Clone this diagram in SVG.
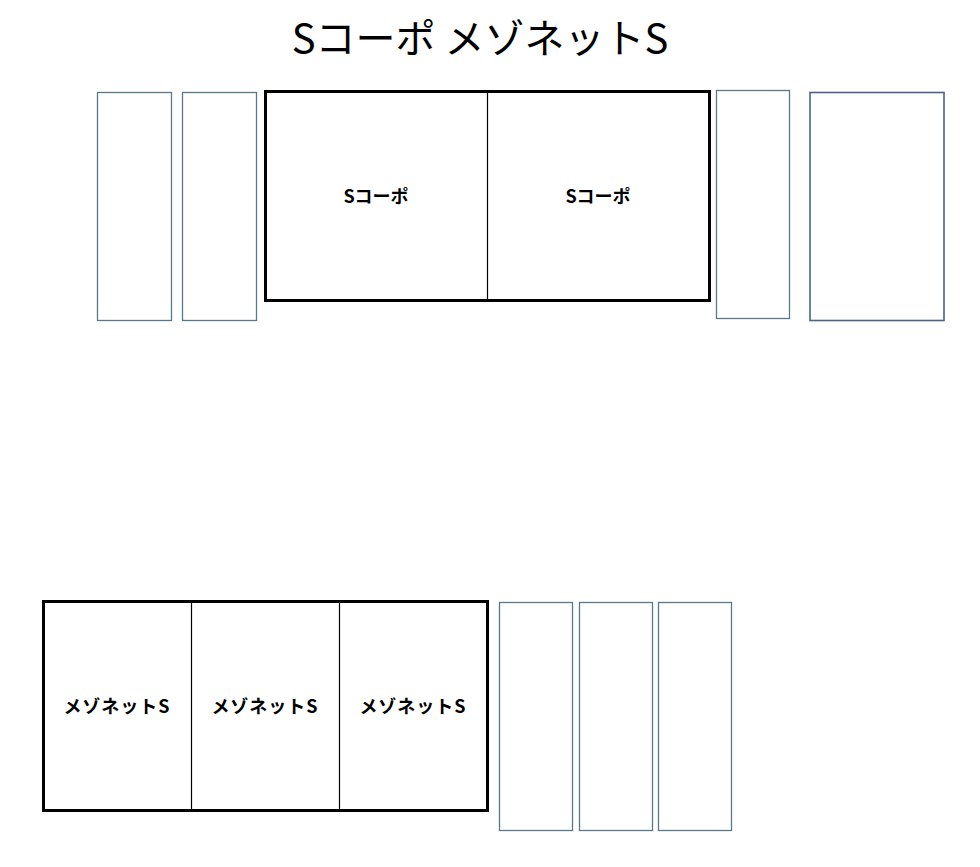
<svg xmlns="http://www.w3.org/2000/svg" width="980" height="867" viewBox="0 0 980 867">
<style>
.bg{fill:#fff}
.side{fill:#fff;stroke:#56788a;stroke-width:1.3}
.side2{fill:#fff;stroke:#4a6385;stroke-width:1.6}
.main{fill:#fff;stroke:#000;stroke-width:3}
.div{stroke:#000;stroke-width:1.2}
.title{font-family:"Noto Sans CJK JP","Noto Sans",sans-serif;font-size:40px;fill:#000;text-anchor:middle}
.lbl{font-family:"Noto Sans CJK JP","Noto Sans",sans-serif;font-size:18px;font-weight:bold;fill:#000;text-anchor:middle}
</style>
<rect class="bg" x="0" y="0" width="980" height="867"/>
<text class="title" x="480" y="53">Sコーポ メゾネットS</text>
<g id="side-top-1"><rect class="side" x="97.5" y="92.5" width="74" height="228"/></g>
<g id="side-top-2"><rect class="side" x="182.5" y="92.5" width="74" height="228"/></g>
<g id="s-corp">
<rect class="main" x="265.5" y="91.5" width="444" height="209"/>
<line class="div" x1="487.5" y1="91.5" x2="487.5" y2="300.5"/>
<text class="lbl" x="376" y="203">Sコーポ</text>
<text class="lbl" x="598" y="203">Sコーポ</text>
</g>
<g id="side-top-3"><rect class="side" x="716.5" y="90.5" width="73" height="228"/></g>
<g id="side-top-4"><rect class="side2" x="810" y="92.5" width="134" height="228"/></g>
<g id="maisonette">
<rect class="main" x="43.5" y="601.5" width="444" height="209"/>
<line class="div" x1="191.5" y1="601.5" x2="191.5" y2="810.5"/>
<line class="div" x1="339.5" y1="601.5" x2="339.5" y2="810.5"/>
<text class="lbl" x="117" y="713" letter-spacing="1">メゾネットS</text>
<text class="lbl" x="265" y="713" letter-spacing="1">メゾネットS</text>
<text class="lbl" x="413" y="713" letter-spacing="1">メゾネットS</text>
</g>
<g id="side-bot-1"><rect class="side" x="499.5" y="602.5" width="73" height="228"/></g>
<g id="side-bot-2"><rect class="side" x="579.5" y="602.5" width="73" height="228"/></g>
<g id="side-bot-3"><rect class="side" x="658.5" y="602.5" width="73" height="228"/></g>
<g id="connectors"></g>
</svg>
